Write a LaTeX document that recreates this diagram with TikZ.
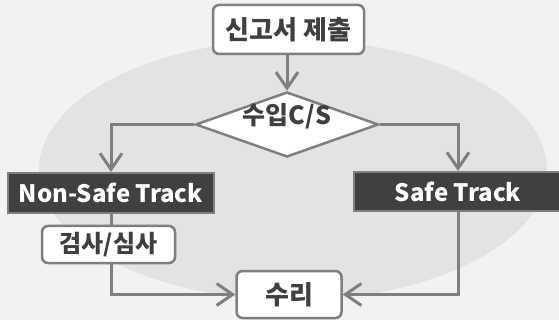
\documentclass[tikz,border=0pt]{standalone}
\usepackage{fontspec}
\setmainfont{Noto Sans CJK KR}
\usetikzlibrary{shapes.geometric,arrows.meta}
\definecolor{bgc}{HTML}{F2F2F2}
\definecolor{ellc}{HTML}{E3E3E3}
\definecolor{linec}{HTML}{7F7F7F}
\definecolor{darkc}{HTML}{404040}
\definecolor{txtc}{HTML}{3F3F3F}
\tikzset{
  whitebox/.style={draw=linec, line width=2.5pt, fill=white, rounded corners=6pt,
    text=txtc, font=\fontsize{26}{30}\selectfont\bfseries, inner sep=0pt, anchor=center},
  darkbox/.style={draw=linec, line width=2pt, fill=darkc, text=white,
    font=\fontsize{24}{28}\selectfont\bfseries, inner sep=0pt},
  conn/.style={draw=linec, line width=3pt},
  arr/.style={conn, -{Straight Barb[length=16pt,width=22pt,line width=3pt]}},
}
\begin{document}
\begin{tikzpicture}[x=1pt,y=-1pt]
\useasboundingbox (0,0) rectangle (559,320);
\clip (0,0) rectangle (559,320);
\fill[bgc] (0,0) rectangle (559,320);
\fill[ellc] (293,170) ellipse [x radius=254, y radius=130];
% nodes
\node[whitebox, minimum width=151pt, minimum height=49pt] (sub) at (288.5,29.5) {신고서 제출};
\node[diamond, draw=linec, line width=2.5pt, fill=white, inner sep=0pt,
      minimum width=183pt, minimum height=65pt, text=txtc,
      font=\fontsize{25}{29}\selectfont\bfseries] (cs) at (287,124.5)
      {\makebox[0pt]{\smash{수입C/S}}};
\node[darkbox, minimum width=206pt, minimum height=40pt] (ns) at (111,193) {Non-Safe Track};
\node[darkbox, minimum width=208pt, minimum height=39pt] (sf) at (458,191.5) {Safe Track};
\node[whitebox, minimum width=133pt, minimum height=37pt, font=\fontsize{24}{28}\selectfont\bfseries] (chk) at (108.5,244.5) {검사/심사};
\node[whitebox, minimum width=105pt, minimum height=47pt] (rep) at (289,294.5) {수리};
% connectors
\draw[arr] (sub.south -| cs.north) -- (cs.north);
\draw[arr] (cs.west) -| (ns.north);
\draw[arr] (cs.east) -| (sf.north);
\draw[conn] (ns.south) -- (ns.south |- chk.north);
\draw[arr] (ns.south |- chk.south) |- (rep.west);
\draw[arr] (sf.south) |- (rep.east);
\end{tikzpicture}
\end{document}
